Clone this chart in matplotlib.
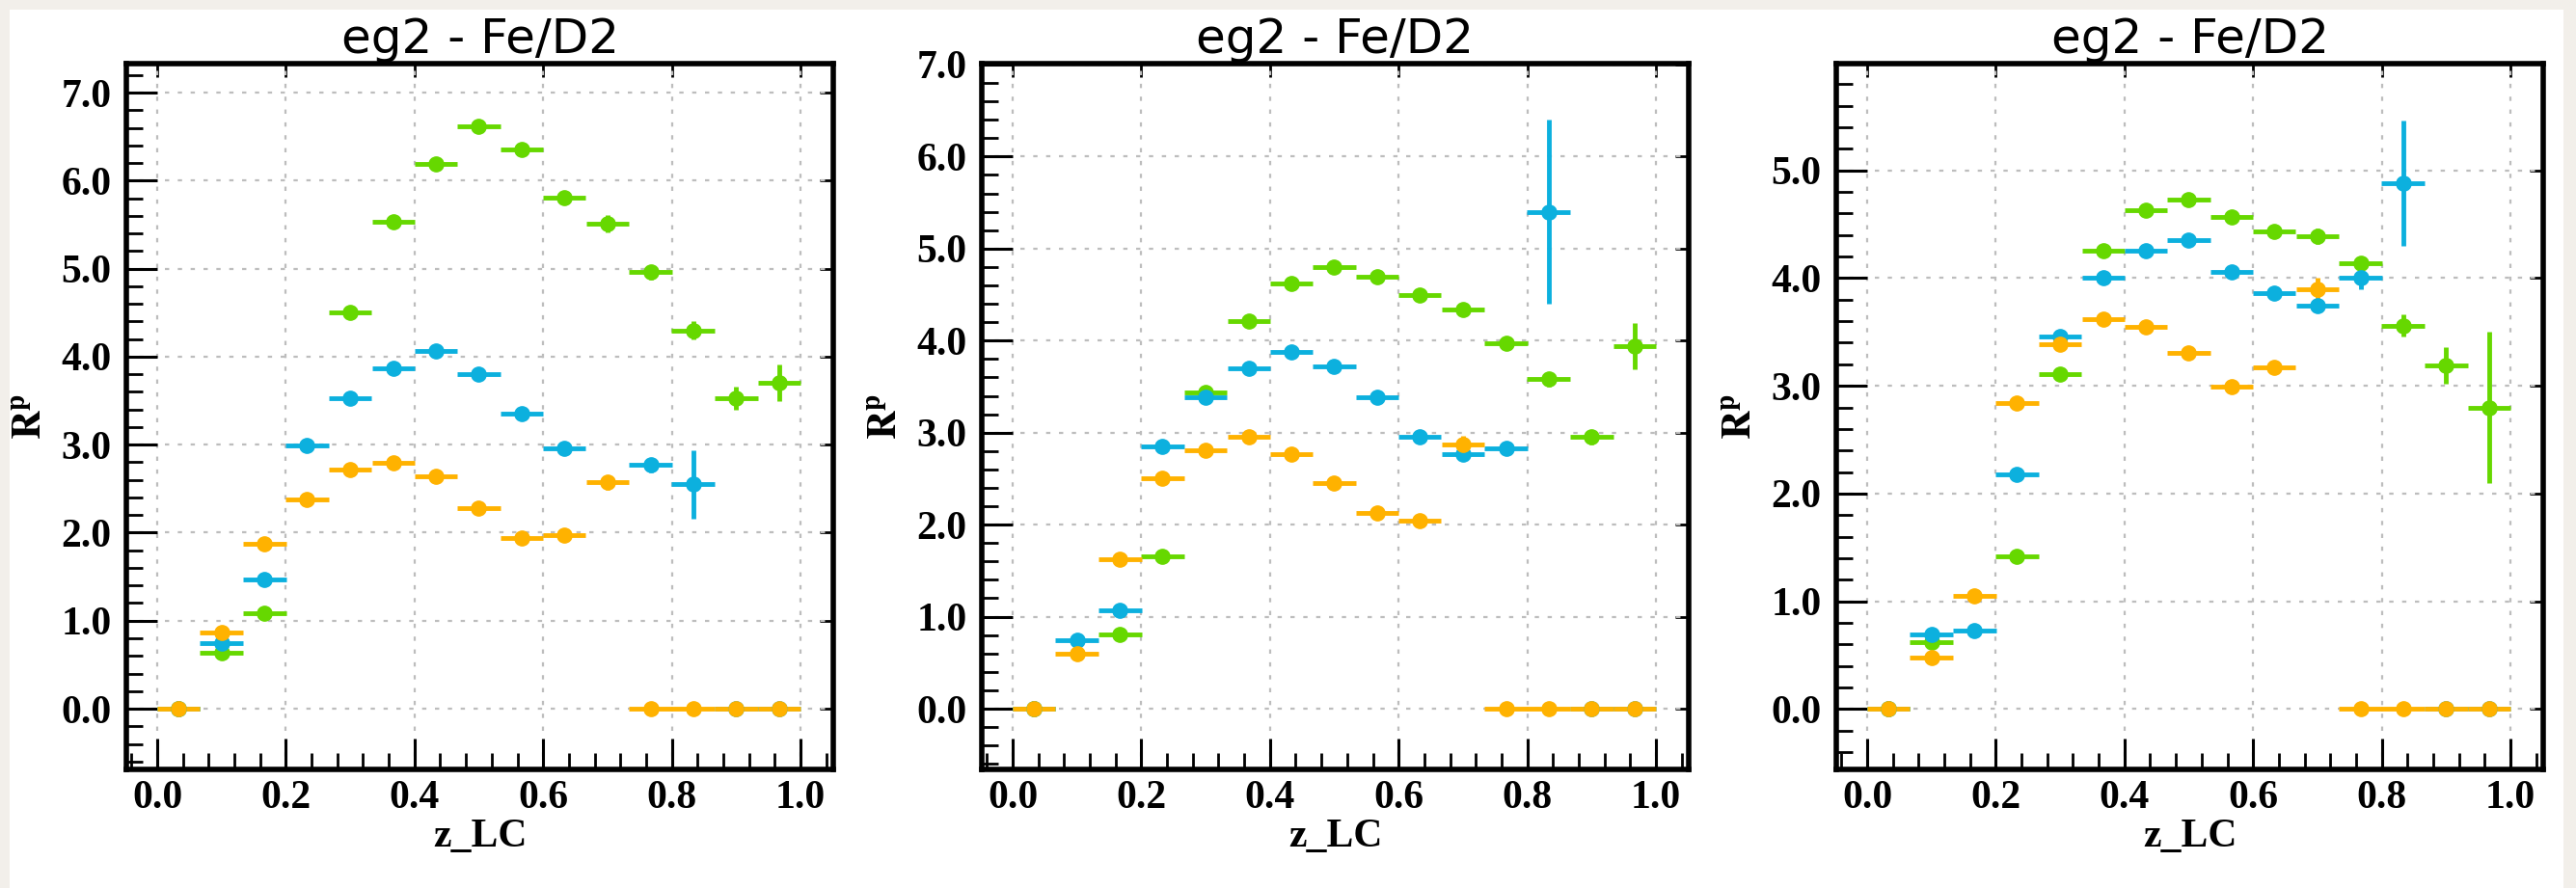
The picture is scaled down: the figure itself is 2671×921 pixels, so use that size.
import numpy as np
import matplotlib
matplotlib.use("Agg")
import matplotlib.pyplot as plt
from matplotlib.ticker import MultipleLocator, FormatStrFormatter

plt.rcParams["mathtext.fontset"] = "stix"
plt.rcParams["font.family"] = ["Liberation Serif", "DejaVu Serif"]
plt.rcParams["font.weight"] = "bold"
plt.rcParams["axes.labelweight"] = "bold"
plt.rcParams["font.size"] = 30

# bin centres (15 bins in z_LC), half bin width as x error
Z_BINS = [0.033, 0.100, 0.167, 0.233, 0.300, 0.367, 0.433, 0.500,
          0.567, 0.633, 0.700, 0.767, 0.833, 0.900, 0.967]
X_HALF = 1.0 / 30

nan = np.nan

# panel 1
P1_GREEN = [0.0, 0.64, 1.09, nan, 4.50, 5.53, 6.19, 6.62, 6.35, 5.81, 5.51, 4.96, 4.30, 3.53, 3.70]
P1_GREEN_ERR = [0, 0.02, 0.02, 0, 0.03, 0.03, 0.03, 0.04, 0.04, 0.05, 0.10, 0.08, 0.10, 0.13, 0.21]
P1_BLUE = [0.0, 0.74, 1.47, 2.99, 3.53, 3.87, 4.07, 3.80, 3.35, 2.96, nan, 2.77, 2.55, 0.0, 0.0]
P1_BLUE_ERR = [0, 0.02, 0.02, 0.02, 0.02, 0.03, 0.03, 0.03, 0.03, 0.04, 0, 0.08, 0.39, 0, 0]
P1_ORANGE = [0.0, 0.87, 1.87, 2.38, 2.72, 2.79, 2.64, 2.28, 1.94, 1.97, 2.57, 0.0, 0.0, 0.0, 0.0]
P1_ORANGE_ERR = [0, 0.02, 0.02, 0.02, 0.02, 0.02, 0.02, 0.02, 0.03, 0.03, 0.08, 0, 0, 0, 0]

# panel 2
P2_GREEN = [0.0, nan, 0.81, 1.66, 3.44, 4.21, 4.62, 4.80, 4.69, 4.50, 4.34, 3.97, 3.58, 2.95, 3.94]
P2_GREEN_ERR = [0, 0, 0.02, 0.02, 0.02, 0.02, 0.02, 0.03, 0.03, 0.03, 0.04, 0.05, 0.08, 0.08, 0.25]
P2_BLUE = [0.0, 0.74, 1.07, 2.85, 3.38, 3.70, 3.88, 3.72, 3.38, 2.96, 2.77, 2.83, 5.40, 0.0, 0.0]
P2_BLUE_ERR = [0, 0.02, 0.02, 0.02, 0.02, 0.02, 0.02, 0.03, 0.03, 0.04, 0.08, 0.07, 1.00, 0, 0]
P2_ORANGE = [0.0, 0.60, 1.62, 2.50, 2.81, 2.96, 2.77, 2.45, 2.13, 2.04, 2.87, 0.0, 0.0, 0.0, 0.0]
P2_ORANGE_ERR = [0, 0.02, 0.02, 0.02, 0.02, 0.02, 0.02, 0.02, 0.02, 0.03, 0.10, 0, 0, 0, 0]

# panel 3
P3_GREEN = [0.0, 0.62, nan, 1.42, 3.11, 4.25, 4.63, 4.73, 4.57, 4.43, 4.39, 4.14, 3.56, 3.19, 2.80]
P3_GREEN_ERR = [0, 0.02, 0, 0.02, 0.02, 0.02, 0.02, 0.02, 0.03, 0.03, 0.07, 0.06, 0.10, 0.17, 0.70]
P3_BLUE = [0.0, 0.69, 0.73, 2.18, 3.46, 4.00, 4.25, 4.35, 4.06, 3.86, 3.74, 4.00, 4.88, 0.0, 0.0]
P3_BLUE_ERR = [0, 0.02, 0.02, 0.02, 0.02, 0.02, 0.02, 0.02, 0.02, 0.03, 0.04, 0.10, 0.58, 0, 0]
P3_ORANGE = [0.0, 0.48, 1.05, 2.84, 3.39, 3.62, 3.55, 3.31, 2.99, 3.17, 3.90, 0.0, 0.0, 0.0, 0.0]
P3_ORANGE_ERR = [0, 0.02, 0.02, 0.02, 0.02, 0.02, 0.02, 0.02, 0.02, 0.03, 0.10, 0, 0, 0, 0]

TITLE = "eg2 - Fe/D2"
XLABEL = "z_LC"
YLABEL = r"$\mathbf{R^{p}}$"

GREEN = "#66d800"
BLUE = "#0cb0de"
ORANGE = "#ffb200"

PANELS = [
    dict(series=[(P1_GREEN, P1_GREEN_ERR), (P1_BLUE, P1_BLUE_ERR), (P1_ORANGE, P1_ORANGE_ERR)],
         ylim=(-0.69, 7.33), left=131, right=864),
    dict(series=[(P2_GREEN, P2_GREEN_ERR), (P2_BLUE, P2_BLUE_ERR), (P2_ORANGE, P2_ORANGE_ERR)],
         ylim=(-0.66, 7.01), left=1018, right=1751),
    dict(series=[(P3_GREEN, P3_GREEN_ERR), (P3_BLUE, P3_BLUE_ERR), (P3_ORANGE, P3_ORANGE_ERR)],
         ylim=(-0.56, 5.99), left=1904, right=2637),
]

W, H = 2671, 921
TOP, BOTTOM = 66, 798

fig = plt.figure(figsize=(W / 100, H / 100), dpi=100)
fig.patch.set_facecolor("#f2efea")
# white slide area behind the plots
bg = fig.add_axes([10 / W, 0, (2658 - 10) / W, (H - 10) / H], zorder=-10)
bg.set_facecolor("white")
bg.set_xticks([])
bg.set_yticks([])
for sp in bg.spines.values():
    sp.set_visible(False)

for p in PANELS:
    ax = fig.add_axes([p["left"] / W, 1 - BOTTOM / H,
                       (p["right"] - p["left"]) / W, (BOTTOM - TOP) / H])
    for (vals, errs), col in zip(p["series"], [GREEN, BLUE, ORANGE]):
        ax.errorbar(Z_BINS, vals, xerr=X_HALF, yerr=errs, fmt="o", color=col,
                    ms=11, elinewidth=3.5, capsize=0, zorder=3)

    ax.set_xlim(-0.048, 1.051)
    ax.set_ylim(*p["ylim"])
    ax.xaxis.set_major_locator(MultipleLocator(0.2))
    ax.xaxis.set_minor_locator(MultipleLocator(0.04))
    ax.yaxis.set_major_locator(MultipleLocator(1.0))
    ax.yaxis.set_minor_locator(MultipleLocator(0.2))
    ax.xaxis.set_major_formatter(FormatStrFormatter("%.1f"))
    ax.yaxis.set_major_formatter(FormatStrFormatter("%.1f"))

    ax.tick_params(which="major", direction="in", length=23, width=2.2,
                   top=False, right=False, labelsize=30)
    ax.tick_params(axis="x", which="major", pad=8)
    ax.tick_params(axis="y", which="major", pad=11)
    ax.tick_params(which="minor", direction="in", length=12, width=2.0,
                   top=False, right=False)
    # short ticks on top / right at major positions only
    sec_x = ax.secondary_xaxis("top")
    sec_x.xaxis.set_major_locator(MultipleLocator(0.2))
    sec_x.tick_params(direction="in", length=10, width=2.0, labeltop=False)
    sec_x.spines["top"].set_visible(False)
    sec_y = ax.secondary_yaxis("right")
    sec_y.yaxis.set_major_locator(MultipleLocator(1.0))
    sec_y.tick_params(direction="in", length=10, width=2.0, labelright=False)
    sec_y.spines["right"].set_visible(False)

    ax.grid(True, which="major", color="#bdbdbd", linestyle=(0, (2, 4)), linewidth=1.6)
    ax.set_axisbelow(True)
    for sp in ax.spines.values():
        sp.set_linewidth(4)

    ax.set_title(TITLE, fontsize=36, family="DejaVu Sans", fontweight="normal", pad=8)
    ax.set_xlabel(XLABEL, fontsize=30, fontweight="bold", labelpad=1)
    ax.set_ylabel(YLABEL, fontsize=30)
    ax.yaxis.set_label_coords(-0.108, 0.5)

fig.savefig("out.png", dpi=100, facecolor=fig.get_facecolor())
